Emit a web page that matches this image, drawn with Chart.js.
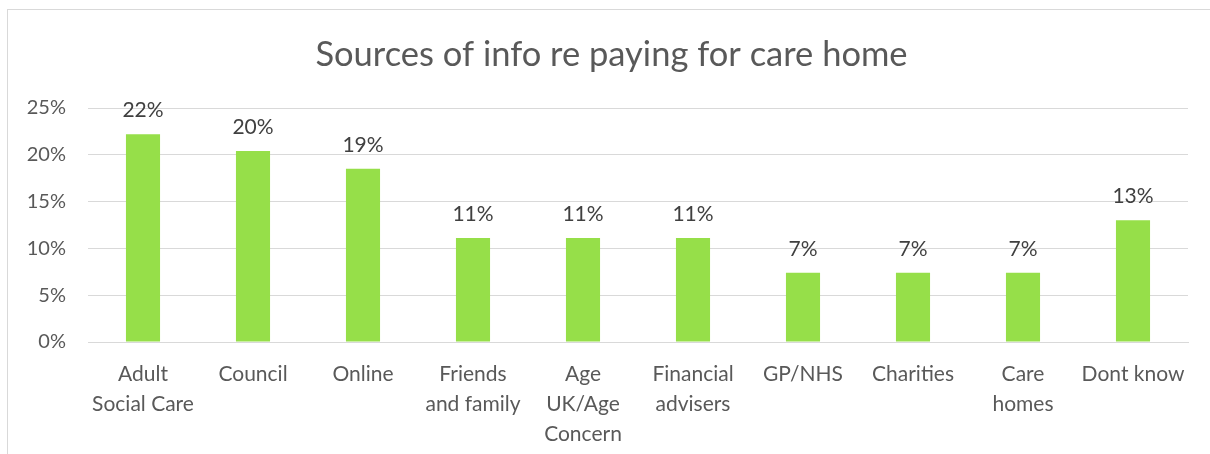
<!DOCTYPE html>
<html>
<head>
<meta charset="utf-8">
<script src="https://cdn.jsdelivr.net/npm/chart.js@4"></script>
<style>
  body { margin: 0; background: #fff; }
  .frame { position: absolute; left: 7px; top: 9px; width: 1300px; height: 500px; border: 1px solid #d9d9d9; }
  .wrap { position: absolute; left: 0; top: 0; width: 1210px; height: 454px; }
</style>
</head>
<body>
<div class="frame"></div>
<div class="wrap"><canvas id="chart"></canvas></div>
<script>
// Data
const categories = [
    ['Adult', 'Social Care'], 'Council', 'Online', ['Friends', 'and family'],
    ['Age', 'UK/Age', 'Concern'], ['Financial', 'advisers'], 'GP/NHS', 'Charities',
    ['Care', 'homes'], 'Dont know'
];
const values = [22.2, 20.4, 18.5, 11.1, 11.1, 11.1, 7.4, 7.4, 7.4, 13.0];
const yTicks = [0, 5, 10, 15, 20, 25];
const titleText = 'Sources of info re paying for care home';

const fontFamily = 'Lato, "Open Sans", sans-serif';

// Title centred on the outer chart frame (not the plot area)
const frameTitle = {
    id: 'frameTitle',
    afterDraw(chart) {
        const ctx = chart.ctx;
        ctx.save();
        ctx.font = '34.5px ' + fontFamily;
        ctx.fillStyle = '#595959';
        ctx.textAlign = 'center';
        ctx.textBaseline = 'middle';
        ctx.fillText(titleText, 611.5, 55);
        ctx.restore();
    }
};

// Data labels above bars
const barLabels = {
    id: 'barLabels',
    afterDatasetsDraw(chart) {
        const ctx = chart.ctx;
        const meta = chart.getDatasetMeta(0);
        ctx.save();
        ctx.font = '21px ' + fontFamily;
        ctx.fillStyle = '#404040';
        ctx.textAlign = 'center';
        ctx.textBaseline = 'middle';
        meta.data.forEach((bar, i) => {
            ctx.fillText(Math.round(values[i]) + '%', bar.x, bar.y - 24);
        });
        ctx.restore();
    }
};

const ctx = document.getElementById('chart').getContext('2d');
new Chart(ctx, {
    type: 'bar',
    data: {
        labels: categories,
        datasets: [{
            data: values,
            backgroundColor: '#96df49',
            categoryPercentage: 1,
            barPercentage: 0.31
        }]
    },
    options: {
        responsive: true,
        maintainAspectRatio: false,
        animation: false,
        layout: { padding: { left: 0, right: 22, top: 108, bottom: 0 } },
        plugins: {
            legend: { display: false },
            tooltip: { enabled: false },
            title: { display: false }
        },
        scales: {
            x: {
                grid: { display: false },
                border: { color: '#d9d9d9', width: 1 },
                ticks: {
                    color: '#595959',
                    font: { family: fontFamily, size: 21, lineHeight: 1.43 },
                    maxRotation: 0,
                    autoSkip: false,
                    padding: 9
                },
                afterFit(scale) { scale.height = 112; }
            },
            y: {
                min: 0,
                max: 25,
                afterBuildTicks(scale) { scale.ticks = yTicks.map(v => ({ value: v })); },
                grid: { color: '#d9d9d9', lineWidth: 1, drawTicks: false },
                border: { display: false },
                ticks: {
                    color: '#595959',
                    font: { family: fontFamily, size: 20 },
                    padding: 22,
                    callback: v => v + '%'
                },
                afterFit(scale) { scale.width = 88; }
            }
        }
    },
    plugins: [barLabels, frameTitle]
});
</script>
</body>
</html>
